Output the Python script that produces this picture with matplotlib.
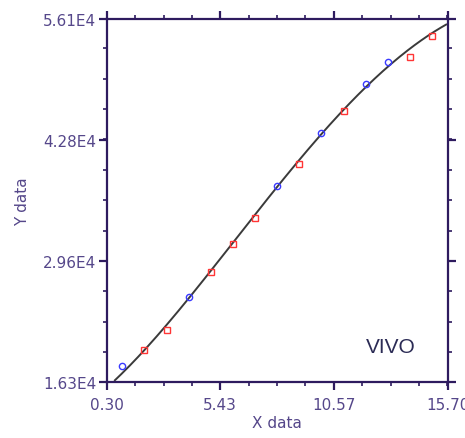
import matplotlib
matplotlib.use("Agg")
import matplotlib.pyplot as plt
import numpy as np
from matplotlib.ticker import FixedLocator, AutoMinorLocator

# observed points, two groups
x_blue = [1, 4, 8, 10, 12, 13]
y_blue = [18100, 25600, 37850, 43600, 48950, 51400]
x_red = [2, 3, 5, 6, 7, 9, 11, 14, 15]
y_red = [19850, 22050, 28350, 31450, 34350, 40200, 46050, 51900, 54200]

# fitted curve
x_fit = [0.67, 2, 4, 6, 8, 10, 12, 14, 15.63]
y_fit = [16475, 19900, 25550, 31400, 37800, 43500, 48750, 52700, 55550]

x_ticks = [0.30, 5.43, 10.57, 15.70]
x_labels = ["0.30", "5.43", "10.57", "15.70"]
y_ticks = [16300, 29600, 42800, 56100]
y_labels = ["1.63E4", "2.96E4", "4.28E4", "5.61E4"]

AXC = "#2e1b5f"
TXC = "#55478a"

coef = np.polyfit(x_fit, y_fit, 4)
xf = np.linspace(x_fit[0], x_fit[-1], 200)
yf = np.polyval(coef, xf)

fig = plt.figure(figsize=(4.65, 4.39), dpi=100)
ax = fig.add_axes([0.2295, 0.1269, 0.7333, 0.8276])

ax.plot(xf, yf, color="#3a3a3a", lw=1.4, zorder=2)
ax.plot(x_blue, y_blue, ls="none", marker="o", ms=4.5, mfc="none", mec="#3a3aff", mew=1.0, zorder=3)
ax.plot(x_red, y_red, ls="none", marker="s", ms=5, mfc="none", mec="#ff3535", mew=1.0, zorder=3)

ax.set_xlim(0.30, 15.70)
ax.set_ylim(16300, 56100)
ax.xaxis.set_major_locator(FixedLocator(x_ticks))
ax.yaxis.set_major_locator(FixedLocator(y_ticks))
ax.set_xticklabels(x_labels)
ax.set_yticklabels(y_labels)
ax.xaxis.set_minor_locator(AutoMinorLocator(4))
ax.yaxis.set_minor_locator(AutoMinorLocator(4))

for s in ax.spines.values():
    s.set_color(AXC)
    s.set_linewidth(1.6)
ax.tick_params(which="both", direction="out", top=True, right=True, color=AXC,
               labelcolor=TXC, labelsize=11)
ax.tick_params(which="major", length=5.5, width=1.6)
ax.tick_params(which="minor", length=3, width=1.2)
ax.tick_params(axis="y", which="major", pad=2)
ax.tick_params(axis="x", which="major", pad=5)

ax.set_xlabel("X data", color=TXC, fontsize=11, labelpad=2)
ax.set_ylabel("Y data", color=TXC, fontsize=11, labelpad=9)

ax.text(12.0, 20170, "VIVO", fontsize=15, color="#2b2b55", ha="left", va="center",
        family="Liberation Sans")

fig.savefig("out.png", dpi=100)
